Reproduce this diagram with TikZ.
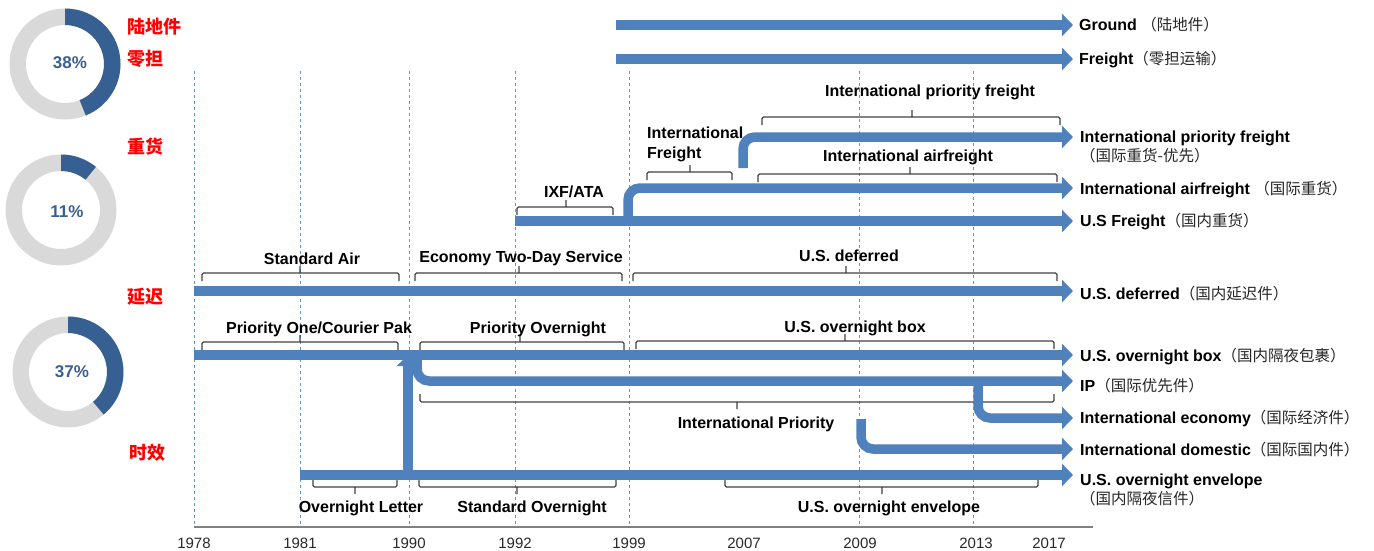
\documentclass[tikz,border=0pt]{standalone}
\usepackage{fontspec}
\setmainfont{Liberation Sans}
\newfontfamily\cjk{Noto Sans CJK SC}
\usetikzlibrary{arrows.meta}

\definecolor{flowblue}{RGB}{79,129,189}
\definecolor{ringdark}{RGB}{55,96,146}
\definecolor{ringgray}{RGB}{217,217,217}
\definecolor{pctblue}{RGB}{58,95,145}
\definecolor{gridblue}{RGB}{91,155,213}
\definecolor{axisgray}{RGB}{128,128,128}
\definecolor{brkgray}{RGB}{64,64,64}
\definecolor{yeartext}{RGB}{40,40,40}

% Chinese part of a product name
\newcommand{\zhpart}[1]{{\cjk\mdseries\fontsize{15.5}{18}\selectfont\color{black!85}#1}}
% bracket spanning a product period: x1, x2, y of the bar, x of the centre tick, side (+1 ends down / -1 ends up)
\newcommand{\spanbrk}[5]{\draw[brk] (#1,{#3+#5*8}) -- (#1,#3) -- (#2,#3) -- (#2,{#3+#5*8}) (#4,#3) -- (#4,{#3-#5*7});}
% ring chart: centre coordinate, end angle of the dark share
\newcommand{\ring}[2]{%
  \fill[ringgray, even odd rule] (#1) circle[radius=55.5pt] (#1) circle[radius=39pt];
  \fill[ringdark] ([shift={(90:55.5pt)}]#1) arc[start angle=90, end angle=#2, radius=55.5pt]
     -- ([shift={(#2:39pt)}]#1) arc[start angle=#2, end angle=90, radius=39pt] -- cycle;}

\begin{document}
\begin{tikzpicture}[x=1pt,y=-1pt,
  flow/.style={draw=flowblue, line width=9.5pt, -{Triangle[length=11pt,width=22pt]}, rounded corners=12pt},
  gridline/.style={draw=gridblue, line width=1pt, dash pattern=on 3pt off 3pt},
  brk/.style={draw=brkgray, line width=1.1pt, rounded corners=1.5pt},
  tag/.style={font=\bfseries\fontsize{16}{20}\selectfont, text=black, inner sep=0pt},
  endlbl/.style={tag, anchor=base west, align=left},
  zhline/.style={font=\cjk\fontsize{15.5}{18}\selectfont, text=black!85, anchor=base west, inner sep=0pt},
  yr/.style={font=\fontsize{15}{18}\selectfont, text=yeartext, inner sep=0pt},
  cat/.style={font=\cjk\bfseries\fontsize{18}{20}\selectfont, text=red, anchor=west, inner sep=0pt},
  pct/.style={font=\bfseries\fontsize{17}{20}\selectfont, text=pctblue, inner sep=0pt}]

\useasboundingbox (0,0) rectangle (1374,551);

% ---------- share rings and category names ----------
\coordinate (c1) at (65,64);
\ring{c1}{-68}
\node[pct] (p1) at (70,63) {38\%};
\coordinate (c2) at (61,210);
\ring{c2}{51}
\node[pct] (p2) at (67,212) {11\%};
\coordinate (c3) at (68,372);
\ring{c3}{-50}
\node[pct] (p3) at (72,372) {37\%};

\node[cat] (k1) at (127,27) {陆地件};
\node[cat] (k2) at (127,59) {零担};
\node[cat] (k3) at (127,147) {重货};
\node[cat] (k4) at (127,297) {延迟};
\node[cat] (k5) at (129,453) {时效};

% ---------- time axis ----------
\foreach \x/\t in {194/1978,300/1981,409/1990,515/1992,629/1999,744/2007,860/2009,976/2013,1049/2017}
  \node[yr] (y\t) at (\x,543) {\t};
\foreach \x in {194,300,409,515,629,859,973}
  \draw[gridline] (\x,71) -- (\x,527);
\draw[draw=axisgray, line width=1.8pt] (194,527) -- (1093,527);

% ---------- period brackets and their names ----------
\spanbrk{762}{1060}{117}{912}{1}
\node[tag] (nIPF) at (930,92) {International priority freight};
\spanbrk{647}{732}{172}{690}{1}
\node[tag, anchor=west, align=left] (nIF) at (647,144) {International\\Freight};
\spanbrk{758}{1057}{174}{910}{1}
\node[tag] (nIA) at (908,157) {International airfreight};
\spanbrk{517}{613}{207}{566}{1}
\node[tag] (nIXF) at (574,192) {IXF/ATA};
\spanbrk{202}{399}{273}{300}{1}
\node[tag] (nSA) at (312,259) {Standard Air};
\spanbrk{415}{622}{273}{519}{1}
\node[tag] (nET) at (521,258) {Economy Two-Day Service};
\spanbrk{633}{1057}{273}{846}{1}
\node[tag] (nUD) at (849,256) {U.S. deferred};
\spanbrk{202}{398}{342}{300}{1}
\node[tag] (nPO) at (319,329) {Priority One/Courier Pak};
\spanbrk{420}{624}{342}{520}{1}
\node[tag] (nPV) at (538,329) {Priority Overnight};
\spanbrk{636}{1054}{341}{845}{1}
\node[tag] (nUB) at (855,328) {U.S. overnight box};
\spanbrk{420}{1054}{402}{737}{-1}
\node[tag] (nIP) at (756,424) {International Priority};
\spanbrk{313}{397}{487}{355}{-1}
\node[tag] (nOL) at (361,508) {Overnight Letter};
\spanbrk{419}{616}{487}{517}{-1}
\node[tag] (nSO) at (532,508) {Standard Overnight};
\spanbrk{725}{1038}{487}{882}{-1}
\node[tag] (nUE) at (889,508) {U.S. overnight envelope};

% ---------- product lines ----------
\coordinate (gS) at (616,25);    \coordinate (gE) at (1073,25);
\coordinate (fS) at (616,59);    \coordinate (fE) at (1073,59);
\coordinate (ipfS) at (743,168); \coordinate (ipfE) at (1073,137);
\coordinate (iaS) at (628,216);  \coordinate (iaE) at (1073,188);
\coordinate (usfS) at (515,221); \coordinate (usfE) at (1073,221);
\coordinate (udS) at (194,291);  \coordinate (udE) at (1073,291);
\coordinate (ubS) at (194,355);  \coordinate (ubE) at (1073,355);
\coordinate (olS) at (408,470);  \coordinate (olE) at (408,355);
\coordinate (ipS) at (417,356);  \coordinate (ipE) at (1073,381);
\coordinate (ieS) at (978,382);  \coordinate (ieE) at (1073,418);
\coordinate (idS) at (861,419);  \coordinate (idE) at (1073,449);
\coordinate (ueS) at (300,475);  \coordinate (ueE) at (1073,475);

\draw[flow] (gS) -- (gE);
\draw[flow] (fS) -- (fE);
\draw[flow] (usfS) -- (usfE);
\draw[flow] (iaS) |- (iaE);
\draw[flow] (ipfS) |- (ipfE);
\draw[flow] (udS) -- (udE);
\draw[flow] (ueS) -- (ueE);
\draw[flow] (ubS) -- (ubE);
\draw[flow] (olS) -- (olE);
\draw[flow] (ipS) |- (ipE);
\draw[flow] (ieS) |- (ieE);
\draw[flow] (idS) |- (idE);

% ---------- product names at the line ends ----------
\node[endlbl] (gL) at ([shift={(6pt,-6pt)}]gE) {Ground \zhpart{（陆地件）}};
\node[endlbl] (fL) at ([shift={(6pt,-6pt)}]fE) {Freight\zhpart{（零担运输）}};
\node[endlbl] (ipfL) at ([shift={(7pt,-5pt)}]ipfE) {International priority freight};
\node[zhline] (ipfZ) at ([shift={(7pt,-24pt)}]ipfE) {（国际重货-优先）};
\node[endlbl] (iaL) at ([shift={(7pt,-6pt)}]iaE) {International airfreight \zhpart{（国际重货）}};
\node[endlbl] (usfL) at ([shift={(7pt,-5pt)}]usfE) {U.S Freight\zhpart{（国内重货）}};
\node[endlbl] (udL) at ([shift={(7pt,-8pt)}]udE) {U.S. deferred\zhpart{（国内延迟件）}};
\node[endlbl] (ubL) at ([shift={(7pt,-6pt)}]ubE) {U.S. overnight box\zhpart{（国内隔夜包裹）}};
\node[endlbl] (ipL) at ([shift={(7pt,-10pt)}]ipE) {IP\zhpart{（国际优先件）}};
\node[endlbl] (ieL) at ([shift={(7pt,-5pt)}]ieE) {International economy\zhpart{（国际经济件）}};
\node[endlbl] (idL) at ([shift={(7pt,-6pt)}]idE) {International domestic\zhpart{（国际国内件）}};
\node[endlbl] (ueL) at ([shift={(7pt,-10pt)}]ueE) {U.S. overnight envelope};
\node[zhline] (ueZ) at ([shift={(7pt,-29pt)}]ueE) {（国内隔夜信件）};

\end{tikzpicture}
\end{document}
